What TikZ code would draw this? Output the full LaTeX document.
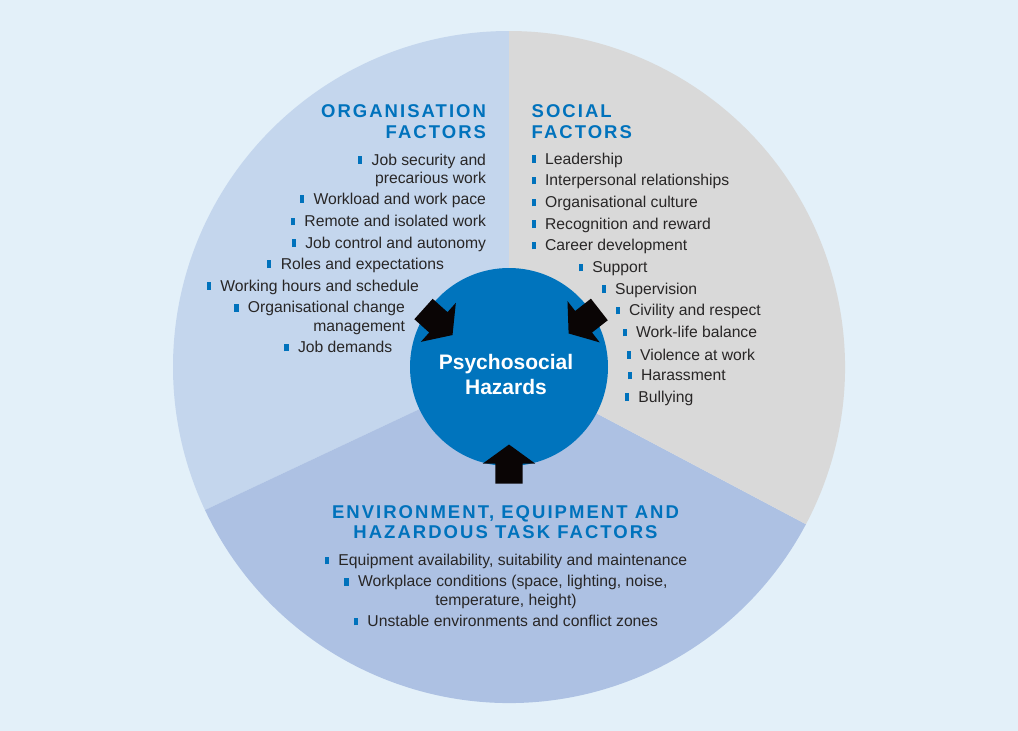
\documentclass[tikz,border=0pt]{standalone}
\usepackage{fontspec}
\setmainfont{Liberation Sans}
\newfontfamily\headfont[LetterSpace=11]{Liberation Sans}
\usetikzlibrary{shapes.arrows}

\definecolor{bgblue}{RGB}{227,240,249}
\definecolor{orgblue}{RGB}{196,214,237}
\definecolor{socgrey}{RGB}{217,217,217}
\definecolor{envblue}{RGB}{173,193,227}
\definecolor{hazblue}{RGB}{0,116,189}
\definecolor{headblue}{RGB}{0,114,188}
\definecolor{txtgrey}{RGB}{40,38,38}
\definecolor{arrowblack}{RGB}{10,5,5}

\newcommand{\bul}{\textcolor{headblue}{\rule[1.3pt]{4.3pt}{7.7pt}}\hspace{9.3pt}}

\begin{document}
\begin{tikzpicture}[x=1pt,y=1pt,
		item/.style={inner sep=0pt,outer sep=0pt,text=txtgrey,font=\fontsize{15.7}{18.5}\selectfont},
		heading/.style={inner sep=0pt,outer sep=0pt,text=headblue,font=\headfont\bfseries\fontsize{18.5}{20.6}\selectfont},
		hazarrow/.style={single arrow,fill=arrowblack,draw=none,inner xsep=0pt,inner ysep=13.5pt,outer sep=0pt,
			minimum height=39pt,single arrow head extend=12.5pt,single arrow tip angle=108}]
	
	%background
	\fill[bgblue] (0,0) rectangle (1018,-731);
	\useasboundingbox (0,0) rectangle (1018,-731);
	
	%segments
	\begin{scope}[shift={(509,-367)}]
		\foreach \anf/\fin/\tint in {90/205.2/orgblue, 205.2/332.1/envblue, -27.9/90/socgrey}
		\fill[\tint] (0,0) -- (\anf:336pt) arc (\anf:\fin:336pt) -- cycle;
	\end{scope}
	
	%centre
	\node[circle,fill=hazblue,minimum size=198pt,inner sep=0pt] (hazards) at (509,-367) {};
	\node[align=center,inner sep=0pt,text=white,font=\bfseries\fontsize{21}{25}\selectfont] (hazname) at (506,-374.2) {Psychosocial\\Hazards};
	
	%arrows
	\node[hazarrow,rotate=-41.9] (orgarrow) at (434.3,-318.7) {};
	\node[hazarrow,rotate=-142] (socarrow) at (587.9,-318.4) {};
	\node[hazarrow,rotate=90] (envarrow) at (509,-469) {};
	
	%organisation
	\node[heading,align=right,anchor=north east] (orghead) at (486,-105) {ORGANISATION\\FACTORS};
	\node[item,align=right,anchor=north east] (org1) at (486,-153.9) {\bul Job security and\\precarious work};
	\foreach[count=\i from 2] \x/\y/\txt in {486/204/Workload and work pace, 486/226.7/Remote and isolated work,
		486/248.3/Job control and autonomy, 444/269.3/Roles and expectations, 419/291/Working hours and schedule}
	\node[item,anchor=base east] (org\i) at (\x,-\y) {\bul\txt};
	\node[item,align=right,anchor=north east] (org7) at (405,-301.6) {\bul Organisational change\\management};
	\node[item,anchor=base east] (org8) at (392.3,-352.7) {\bul Job demands};
	
	%social
	\node[heading,align=left,anchor=north west] (sochead) at (531.7,-105) {SOCIAL\\FACTORS};
	\foreach[count=\i] \x/\y/\txt in {531.5/164/Leadership, 531.5/185.7/Interpersonal relationships,
		531.5/207.7/Organisational culture, 531.5/229.3/Recognition and reward, 531.5/250.7/Career development,
		578.8/272.7/Support, 601.5/294.3/Supervision, 615.5/315.7/Civility and respect,
		622.5/337.7/Work-life balance, 626.5/360/Violence at work, 627.5/380.7/Harassment, 624.8/402.3/Bullying}
	\node[item,anchor=base west] (soc\i) at (\x,-\y) {\bul\txt};
	
	%environment
	\node[heading,align=center,anchor=north] (envhead) at (505.5,-505.1) {ENVIRONMENT, EQUIPMENT AND\\HAZARDOUS TASK FACTORS};
	\node[item,anchor=base] (env1) at (506,-565.7) {\bul Equipment availability, suitability and maintenance};
	\node[item,align=center,anchor=north] (env2) at (506,-575.6) {\bul Workplace conditions (space, lighting, noise,\\temperature, height)};
	\node[item,anchor=base] (env3) at (506,-626.7) {\bul Unstable environments and conflict zones};
	
\end{tikzpicture}
\end{document}
